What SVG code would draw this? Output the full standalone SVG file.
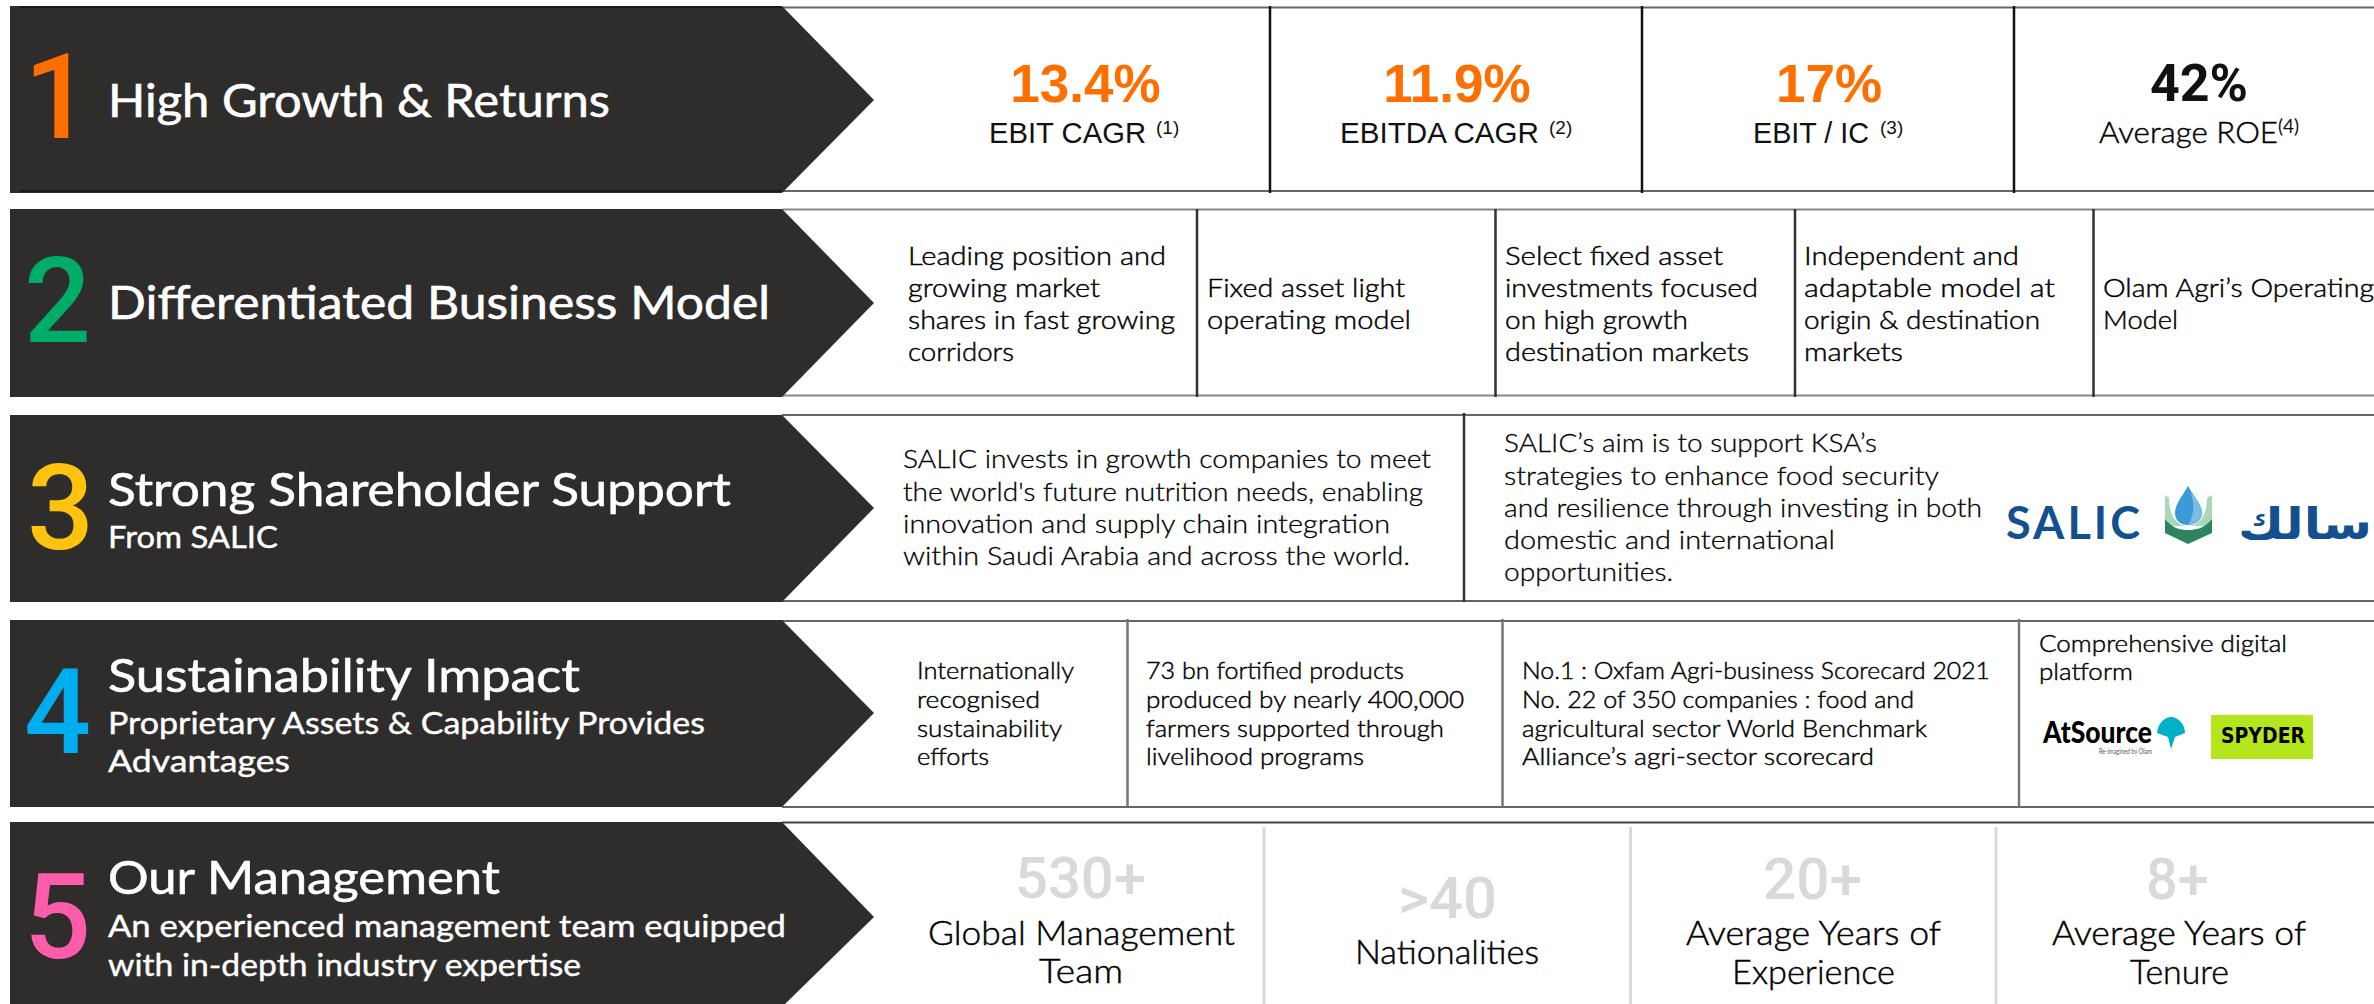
<svg xmlns="http://www.w3.org/2000/svg" width="2374" height="1004" viewBox="0 0 2374 1004">
<style>
text{font-family:"Lato","Liberation Sans",sans-serif;white-space:pre}
.panel{fill:#2E2D2C}
.num{font-family:"Roboto","Noto Sans",sans-serif;font-size:118px;font-weight:500}
.t{fill:#fff;font-size:46px;font-weight:400;stroke:#fff;stroke-width:.6}
.s{fill:#fff;font-size:31px;font-weight:400;stroke:#fff;stroke-width:.4}
.b{fill:#000;font-size:26px;font-weight:300;stroke:#000;stroke-width:.45}
.b3{fill:#000;font-size:26px;font-weight:300;stroke:#000;stroke-width:.3}
.b4{fill:#000;font-size:24px;font-weight:300;stroke:#000;stroke-width:.45}
.pct{font-family:"Liberation Sans",Arial,sans-serif;font-weight:700;font-size:53px;fill:#FF6F00;text-anchor:middle}
.lab{font-family:"Liberation Sans",Arial,sans-serif;font-size:29px;fill:#111}
.sup{font-family:"Liberation Sans",Arial,sans-serif;font-size:19px;fill:#111}
.big{font-family:"Roboto","Noto Sans",sans-serif;font-size:58px;font-weight:500;fill:#D9D9D9}
.m{fill:#000;font-size:33px;font-weight:300;stroke:#000;stroke-width:.45}
.hl{fill:none;stroke:#666;stroke-width:2}
.d1{stroke:#111;stroke-width:2.5}
.d2{stroke:#333;stroke-width:2.5}
.d4{stroke:#777;stroke-width:2.5}
.d5{stroke:#D9D9D9;stroke-width:3}
</style>
<rect width="2374" height="1004" fill="#fff"/>
<g id="connectors">
<path class="hl" d="M782 7.500H2374M782 191H2374"/>
<path class="hl" style="stroke:#888" d="M782 209.500H2374M782 395.500H2374"/>
<path class="hl" d="M782 415H2374M782 601H2374"/>
<path class="hl" d="M782 621H2374M782 807H2374"/>
<path class="hl" style="stroke:#444" d="M782 822.500H2374"/>
<path class="d1" d="M1270 6V193M1642 6V193M2014 6V193"/>
<path class="d2" d="M1197 209V397M1495.500 209V397M1795 209V397M2093.500 209V397"/>
<path class="d2" d="M1464 413V602"/>
<path class="d4" d="M1127.500 619V807M1502.500 619V807M2019 619V807"/>
<path class="d5" d="M1264 827V1004M1630.500 827V1004M1996 827V1004"/>
</g>
<g id="row1">
<path class="panel" d="M10 6H782L874 100L782 193H10Z"/>
<path d="M20 7H782M20 191H782" stroke="#1a1a1a" stroke-width="2"/>
<text class="num" x="24" y="138" fill="#FF6F00">1</text>
<text class="t" x="108" y="117" textLength="502" lengthAdjust="spacingAndGlyphs">High Growth &amp; Returns</text>
<text class="pct" x="1085.500" y="102">13.4%</text>
<text class="lab" x="989" y="143" textLength="157" lengthAdjust="spacingAndGlyphs">EBIT CAGR</text><text class="sup" x="1156" y="134">(1)</text>
<text class="pct" x="1457" y="102">11.9%</text>
<text class="lab" x="1340" y="143" textLength="199" lengthAdjust="spacingAndGlyphs">EBITDA CAGR</text><text class="sup" x="1549" y="134">(2)</text>
<text class="pct" x="1829" y="102">17%</text>
<text class="lab" x="1753" y="143" textLength="116" lengthAdjust="spacingAndGlyphs">EBIT / IC</text><text class="sup" x="1880" y="134">(3)</text>
<text x="2150" y="101" font-size="52" font-weight="700" fill="#111" style="font-family:Roboto,sans-serif" textLength="98" lengthAdjust="spacingAndGlyphs">42%</text>
<text class="b" x="2099" y="143" style="font-size:30px" textLength="179" lengthAdjust="spacingAndGlyphs">Average ROE</text><text class="sup" x="2278" y="133" style="font-family:Lato,sans-serif">(4)</text>
</g>
<g id="row2">
<path class="panel" d="M10 209H782L874 303L782 397H10Z"/>
<text class="num" x="24" y="342" fill="#00AC69">2</text>
<text class="t" x="108" y="319" textLength="662" lengthAdjust="spacingAndGlyphs">Differentiated Business Model</text>
<text class="b" x="908" y="265" textLength="258" lengthAdjust="spacingAndGlyphs">Leading position and</text>
<text class="b" x="908" y="297" textLength="192" lengthAdjust="spacingAndGlyphs">growing market</text>
<text class="b" x="908" y="329" textLength="267" lengthAdjust="spacingAndGlyphs">shares in fast growing</text>
<text class="b" x="908" y="361" textLength="106" lengthAdjust="spacingAndGlyphs">corridors</text>
<text class="b" x="1207" y="297" textLength="198" lengthAdjust="spacingAndGlyphs">Fixed asset light</text>
<text class="b" x="1207" y="329" textLength="204" lengthAdjust="spacingAndGlyphs">operating model</text>
<text class="b" x="1505" y="265" textLength="218" lengthAdjust="spacingAndGlyphs">Select fixed asset</text>
<text class="b" x="1505" y="297" textLength="253" lengthAdjust="spacingAndGlyphs">investments focused</text>
<text class="b" x="1505" y="329" textLength="183" lengthAdjust="spacingAndGlyphs">on high growth</text>
<text class="b" x="1505" y="361" textLength="244" lengthAdjust="spacingAndGlyphs">destination markets</text>
<text class="b" x="1804" y="265" textLength="215" lengthAdjust="spacingAndGlyphs">Independent and</text>
<text class="b" x="1804" y="297" textLength="251" lengthAdjust="spacingAndGlyphs">adaptable model at</text>
<text class="b" x="1804" y="329" textLength="236" lengthAdjust="spacingAndGlyphs">origin &amp; destination</text>
<text class="b" x="1804" y="361" textLength="99" lengthAdjust="spacingAndGlyphs">markets</text>
<text class="b" x="2103" y="297" textLength="271" lengthAdjust="spacingAndGlyphs">Olam Agri’s Operating</text>
<text class="b" x="2103" y="329" textLength="75" lengthAdjust="spacingAndGlyphs">Model</text>
</g>
<g id="row3">
<path class="panel" d="M10 415H782L874 508L782 602H10Z"/>
<text class="num" x="27" y="549" fill="#FFC20E">3</text>
<text class="t" x="108" y="506" textLength="623" lengthAdjust="spacingAndGlyphs">Strong Shareholder Support</text>
<text class="s" x="108" y="548" textLength="170" lengthAdjust="spacingAndGlyphs">From SALIC</text>
<text class="b3" x="903" y="468" textLength="528" lengthAdjust="spacingAndGlyphs">SALIC invests in growth companies to meet</text>
<text class="b3" x="903" y="501" textLength="520" lengthAdjust="spacingAndGlyphs">the world's future nutrition needs, enabling</text>
<text class="b3" x="903" y="533" textLength="487" lengthAdjust="spacingAndGlyphs">innovation and supply chain integration</text>
<text class="b3" x="903" y="565" textLength="507" lengthAdjust="spacingAndGlyphs">within Saudi Arabia and across the world.</text>
<text class="b3" x="1504" y="452" textLength="373" lengthAdjust="spacingAndGlyphs">SALIC’s aim is to support KSA’s</text>
<text class="b3" x="1504" y="485" textLength="435" lengthAdjust="spacingAndGlyphs">strategies to enhance food security</text>
<text class="b3" x="1504" y="517" textLength="478" lengthAdjust="spacingAndGlyphs">and resilience through investing in both</text>
<text class="b3" x="1504" y="549" textLength="331" lengthAdjust="spacingAndGlyphs">domestic and international</text>
<text class="b3" x="1504" y="581" textLength="169" lengthAdjust="spacingAndGlyphs">opportunities.</text>
<text x="2006" y="539" font-size="45" font-weight="700" fill="#12508E" textLength="134">SALIC</text>
<path fill="#A9D8B8" d="M2165 495L2169 498C2169 515 2176 526 2188 526C2200 526 2207 515 2207 498L2212 495V526H2165Z"/>
<path fill="#2E8460" d="M2165 519C2172 528 2180 530 2188 530C2196 530 2205 528 2212 519V533L2188 544L2165 533Z"/>
<path fill="#3A9BD8" d="M2188 486C2181 498 2175 505 2175 513C2175 521 2181 525 2188 525C2195 525 2202 521 2202 513C2202 505 2195 498 2188 486Z"/>
<path fill="#7CBBE4" d="M2190 491C2195 498 2202 505 2202 513C2202 521 2195 525 2188 525C2193 518 2196 505 2190 491Z"/>
<text x="2238" y="539" font-size="44" font-weight="700" fill="#12508E" style="font-family:'DejaVu Sans',sans-serif" textLength="134" lengthAdjust="spacingAndGlyphs" direction="rtl" unicode-bidi="bidi-override" text-anchor="end">سالك</text>
</g>
<g id="row4">
<path class="panel" d="M10 620H782L874 713L782 807H10Z"/>
<text class="num" x="24" y="753" fill="#00AEEF">4</text>
<text class="t" x="108" y="692" textLength="472" lengthAdjust="spacingAndGlyphs">Sustainability Impact</text>
<text class="s" x="108" y="734" textLength="597" lengthAdjust="spacingAndGlyphs">Proprietary Assets &amp; Capability Provides</text>
<text class="s" x="108" y="772" textLength="182" lengthAdjust="spacingAndGlyphs">Advantages</text>
<text class="b4" x="917" y="679" textLength="157" lengthAdjust="spacingAndGlyphs">Internationally</text>
<text class="b4" x="917" y="708" textLength="123" lengthAdjust="spacingAndGlyphs">recognised</text>
<text class="b4" x="917" y="737" textLength="145" lengthAdjust="spacingAndGlyphs">sustainability</text>
<text class="b4" x="917" y="765" textLength="72" lengthAdjust="spacingAndGlyphs">efforts</text>
<text class="b4" x="1146" y="679" textLength="258" lengthAdjust="spacingAndGlyphs">73 bn fortified products</text>
<text class="b4" x="1146" y="708" textLength="318" lengthAdjust="spacingAndGlyphs">produced by nearly 400,000</text>
<text class="b4" x="1146" y="737" textLength="298" lengthAdjust="spacingAndGlyphs">farmers supported through</text>
<text class="b4" x="1146" y="765" textLength="218" lengthAdjust="spacingAndGlyphs">livelihood programs</text>
<text class="b4" x="1522" y="679" textLength="468" lengthAdjust="spacingAndGlyphs">No.1 : Oxfam Agri-business Scorecard 2021</text>
<text class="b4" x="1522" y="708" textLength="392" lengthAdjust="spacingAndGlyphs">No. 22 of 350 companies : food and</text>
<text class="b4" x="1522" y="737" textLength="405" lengthAdjust="spacingAndGlyphs">agricultural sector World Benchmark</text>
<text class="b4" x="1522" y="765" textLength="352" lengthAdjust="spacingAndGlyphs">Alliance’s agri-sector scorecard</text>
<text class="b4" x="2039" y="652" textLength="248" lengthAdjust="spacingAndGlyphs">Comprehensive digital</text>
<text class="b4" x="2039" y="680" textLength="94" lengthAdjust="spacingAndGlyphs">platform</text>
<text x="2043" y="743" font-size="30" font-weight="900" fill="#000" textLength="109" lengthAdjust="spacingAndGlyphs">AtSource</text>
<text x="2099" y="754" font-size="7" fill="#555" textLength="53" lengthAdjust="spacingAndGlyphs">Re-imagined by Olam</text>
<path fill="#00B0C8" d="M2157 733C2158 723 2165 717 2171 717C2178 717 2185 724 2185 733L2175 737L2171 749L2168 737Z"/>
<rect x="2211" y="715" width="102" height="44" fill="#B5E61D"/>
<text x="2221" y="743" font-size="22" font-weight="700" fill="#000" style="font-family:'DejaVu Sans',sans-serif" textLength="84" lengthAdjust="spacingAndGlyphs">SPYDER</text>
</g>
<g id="row5">
<path class="panel" d="M10 822H782L874 917L785 1004H10Z"/>
<text class="num" x="24" y="958" fill="#FF5CAA">5</text>
<text class="t" x="108" y="894" textLength="392" lengthAdjust="spacingAndGlyphs">Our Management</text>
<text class="s" x="108" y="937" textLength="678" lengthAdjust="spacingAndGlyphs">An experienced management team equipped</text>
<text class="s" x="108" y="976" textLength="473" lengthAdjust="spacingAndGlyphs">with in-depth industry expertise</text>
<text class="big" x="1015" y="898" textLength="131" lengthAdjust="spacingAndGlyphs">530+</text>
<text class="m" x="928" y="945" textLength="307" lengthAdjust="spacingAndGlyphs">Global Management</text>
<text class="m" x="1039" y="983" textLength="84" lengthAdjust="spacingAndGlyphs">Team</text>
<text class="big" x="1398" y="918" textLength="99" lengthAdjust="spacingAndGlyphs">&gt;40</text>
<text class="m" x="1355" y="964" textLength="184" lengthAdjust="spacingAndGlyphs">Nationalities</text>
<text class="big" x="1763" y="899" textLength="99" lengthAdjust="spacingAndGlyphs">20+</text>
<text class="m" x="1686" y="945" textLength="255" lengthAdjust="spacingAndGlyphs">Average Years of</text>
<text class="m" x="1732" y="984" textLength="163" lengthAdjust="spacingAndGlyphs">Experience</text>
<text class="big" x="2146" y="899" textLength="63" lengthAdjust="spacingAndGlyphs">8+</text>
<text class="m" x="2052" y="945" textLength="254" lengthAdjust="spacingAndGlyphs">Average Years of</text>
<text class="m" x="2130" y="984" textLength="99" lengthAdjust="spacingAndGlyphs">Tenure</text>
</g>
</svg>
